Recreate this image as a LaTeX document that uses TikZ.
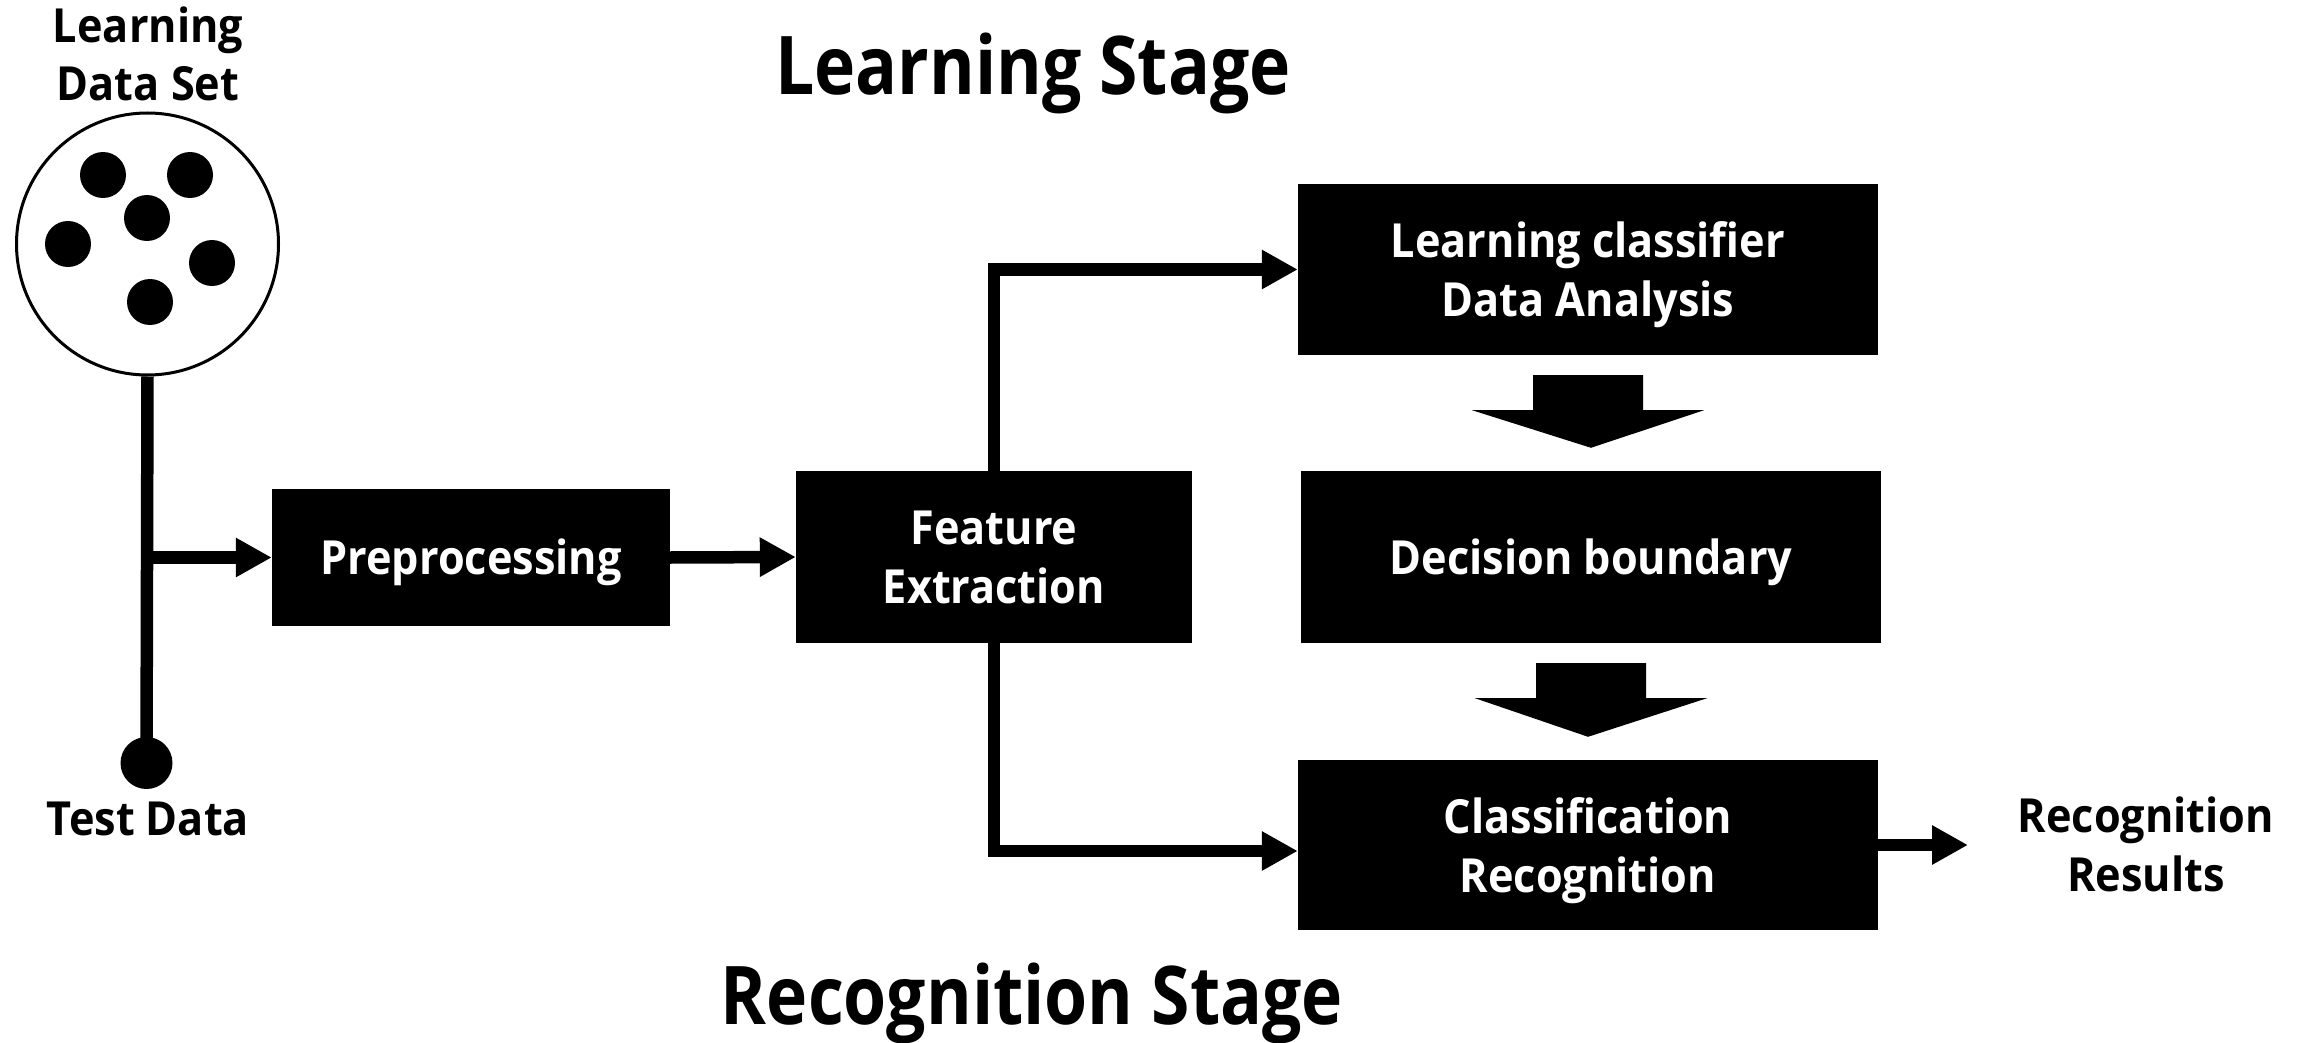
\documentclass[tikz,border=0pt]{standalone}
\usepackage{fontspec}
\setmainfont{Open Sans}[FakeStretch=0.92]
\newfontfamily\titlefont{Open Sans}[FakeStretch=0.86]
\usetikzlibrary{arrows.meta,calc}

\tikzset{
  blk/.style={fill=black, text=white, inner sep=0pt, align=center, text depth=0pt,
    font=\bfseries\fontsize{47}{59}\selectfont},
  oneline/.style={text height=34pt, text depth=0pt},
  lbl/.style={inner sep=0pt, align=center, font=\bfseries\fontsize{47}{59}\selectfont},
  ttl/.style={inner sep=0pt, font=\titlefont\bfseries\fontsize{81}{97}\selectfont},
  conn/.style={line width=12.5pt, -{Triangle[length=36pt,width=37pt]}},
  dot/.style={circle, fill=black, inner sep=0pt, minimum size=52pt},
}

% wide block arrow pointing down from the bottom of #1 to the top of #2
\newcommand\blockdown[2]{%
  \fill ($(#1.south)+(-55,20)$) -- ($(#1.south)+(55,20)$) --
        ($(#1.south)+(55,55)$) -- ($(#1.south)+(116,55)$) --
        ($(#2.north)+(0,-23)$) --
        ($(#1.south)+(-116,55)$) -- ($(#1.south)+(-55,55)$) -- cycle;}

\begin{document}
\begin{tikzpicture}[x=1pt, y=-1pt]
  \useasboundingbox (0,0) rectangle (2308,1043);
  \fill[white] (0,0) rectangle (2308,1043);

  % titles
  \node[ttl, anchor=base] (lstage) at (1033,95) {Learning Stage};
  \node[ttl, anchor=base] (rstage) at (1032,1024) {Recognition Stage};

  % learning data set
  \node[lbl, anchor=base, font=\bfseries\fontsize{47}{58}\selectfont] (dslabel) at (148,101) {Learning\\Data Set};
  \node[circle, draw, line width=3pt, minimum size=262pt, inner sep=0pt] (ds) at (147.5,244) {};
  \fill (103,175) circle[radius=23];
  \fill (190,175) circle[radius=23];
  \fill (147,218) circle[radius=23];
  \fill (68,244)  circle[radius=23];
  \fill (212,263) circle[radius=23];
  \fill (150,302) circle[radius=23];

  % test data
  \node[dot] (td) at (146.5,763) {};
  \node[lbl, anchor=base] (tdlabel) at (148,835) {Test Data};

  % processing blocks
  \node[blk, oneline, minimum width=398pt, minimum height=137pt] (pre) at (471,557.5) {Preprocessing};
  \node[blk, minimum width=396pt, minimum height=172pt] (fe) at (994,557) {Feature\\Extraction};
  \node[blk, minimum width=580pt, minimum height=171pt] (lc) at (1588,269.5) {Learning classifier\\Data Analysis};
  \node[blk, oneline, minimum width=580pt, minimum height=172pt] (db) at (1591,557) {Decision boundary};
  \node[blk, minimum width=580pt, minimum height=170pt] (cls) at (1588,845) {Classification\\Recognition};

  \node[lbl, anchor=base] (res) at (2146,891) {Recognition\\Results};
  \coordinate (resin) at (1968,845);

  % connectors
  \draw[line width=12.5pt] (ds.south) -- (td.center);
  \draw[conn] (ds.south |- pre.west) -- (pre.west);
  \draw[conn] (pre.east) -- (fe.west);
  \draw[conn] (fe.north) |- (lc.west);
  \draw[conn] (fe.south) |- ($(cls.west)+(0,6)$);
  \draw[conn] (cls.east) -- (resin);

  % block arrows between the classifier stages
  \blockdown{lc}{db}
  \blockdown{db}{cls}
\end{tikzpicture}
\end{document}
